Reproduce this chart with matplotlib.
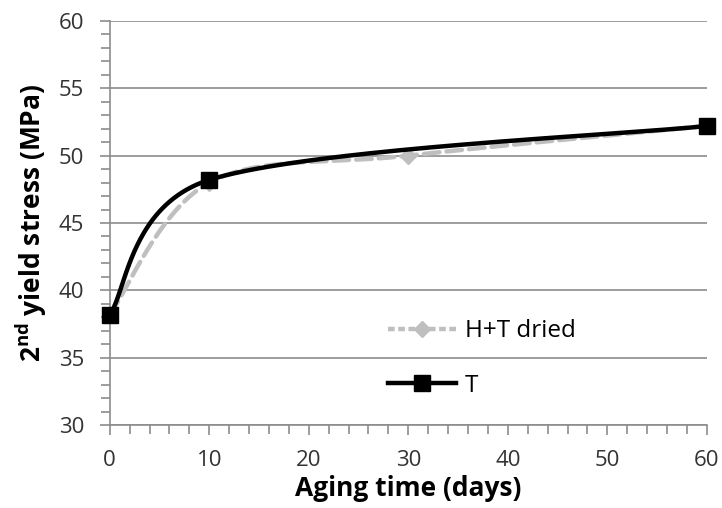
"""
Courbe de la 2e contrainte d'écoulement en fonction du temps de vieillissement.
"""

import numpy as np
from matplotlib import pyplot as plt
from matplotlib.ticker import MultipleLocator

jours_T = [0, 10, 60]
contrainte_T = [38.2, 48.2, 52.2]

jours_HT = [0, 10, 30, 60]
contrainte_HT = [38.2, 48.0, 50.0, 52.2]

etiquettes = ["H+T dried", "T"]


def lisse(ax, x, y, n=80):
    # lissage façon Excel : Bézier cubique calculée en pixels,
    # poignées = tangente/6 limitées à la moitié du segment voisin
    p = ax.transData.transform(np.column_stack([x, y]).astype(float))
    res = []
    for i in range(len(p) - 1):
        a, b = p[i], p[i + 1]
        ta = b - (p[i - 1] if i > 0 else a)
        tb = (p[i + 2] if i + 2 < len(p) else b) - a
        d = np.hypot(*(b - a))
        ha = ta / 6
        hb = tb / 6
        if np.hypot(*ha) > d / 2:
            ha = ha * d / 2 / np.hypot(*ha)
        if np.hypot(*hb) > d / 2:
            hb = hb * d / 2 / np.hypot(*hb)
        c1, c2 = a + ha, b - hb
        t = np.linspace(0, 1, n)[:, None]
        q = ((1 - t) ** 3) * a + 3 * ((1 - t) ** 2) * t * c1 \
            + 3 * (1 - t) * t ** 2 * c2 + t ** 3 * b
        res.append(q if i == 0 else q[1:])
    res = ax.transData.inverted().transform(np.vstack(res))
    return res[:, 0], res[:, 1]


plt.rcParams['font.family'] = ['Open Sans', 'DejaVu Sans']
plt.rcParams['mathtext.fontset'] = 'custom'
plt.rcParams['mathtext.rm'] = 'Open Sans'
plt.rcParams['mathtext.bf'] = 'Open Sans:bold'

fig = plt.figure(figsize=(7.22, 5.08), dpi=100)
ax = fig.add_axes([0.152, 0.163, 0.827, 0.796])
ax.set_xlim(0, 60)
ax.set_ylim(30, 60)

gris = '#BFBFBF'
xs, ys = lisse(ax, jours_HT, contrainte_HT)
ax.plot(xs, ys, color=gris, lw=3.2, dashes=(3.5, 1.6), dash_capstyle='round',
        zorder=3, clip_on=False)
ax.plot(jours_HT, contrainte_HT, ls='none', marker='D', ms=8, color=gris,
        zorder=3, clip_on=False)
ax.plot([], [], color=gris, lw=3.2, dashes=(1.5, 0.8), marker='D', ms=8,
        label=etiquettes[0])

xs, ys = lisse(ax, jours_T, contrainte_T)
ax.plot(xs, ys, color='black', lw=3.2, zorder=4, clip_on=False)
ax.plot(jours_T, contrainte_T, ls='none', marker='s', ms=11, color='black',
        zorder=5, clip_on=False)
ax.plot([], [], color='black', lw=3.2, marker='s', ms=11, label=etiquettes[1])

ax.xaxis.set_major_locator(MultipleLocator(10))
ax.xaxis.set_minor_locator(MultipleLocator(2))
ax.yaxis.set_major_locator(MultipleLocator(5))
ax.yaxis.set_minor_locator(MultipleLocator(1))

ax.grid(axis='y', which='major', color='#8C8C8C', lw=1.2)
ax.set_axisbelow(True)
for cote in ['top', 'right']:
    ax.spines[cote].set_visible(False)
for cote in ['left', 'bottom']:
    ax.spines[cote].set_color('#8C8C8C')
    ax.spines[cote].set_linewidth(1.2)

ax.tick_params(which='both', direction='out', color='#8C8C8C', width=1.2)
ax.tick_params(which='major', length=7.5, labelsize=16, labelcolor='#333333')
ax.tick_params(which='minor', length=6.5)
ax.tick_params(axis='y', pad=11)
ax.tick_params(axis='x', pad=10)

ax.set_xlabel('Aging time (days)', fontsize=19, fontweight='bold', labelpad=3)
ax.set_ylabel(r'2$^{\mathbf{nd}}$ yield stress (MPa)', fontsize=19,
              fontweight='bold', labelpad=7)

ax.legend(loc='upper left', bbox_to_anchor=(0.466, 0.262), frameon=False,
          fontsize=17.5, handlelength=2.8, handletextpad=0.35, labelspacing=1.25,
          borderpad=0, borderaxespad=0)

plt.savefig('out.png', dpi=100)
